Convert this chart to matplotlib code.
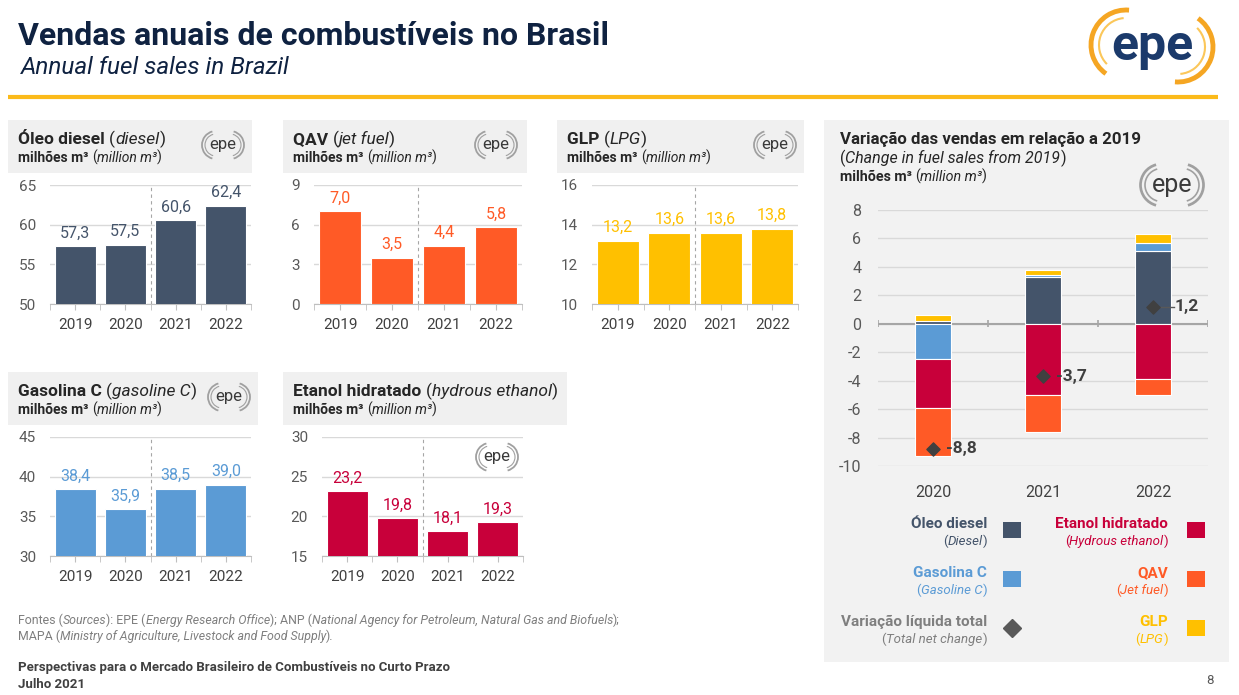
import numpy as np
import matplotlib
matplotlib.use("Agg")
import matplotlib.pyplot as plt
from matplotlib.patches import Rectangle, Arc

# data (milhoes de m3)
years = ["2019", "2020", "2021", "2022"]
diesel = [57.3, 57.5, 60.6, 62.4]
qav = [7.0, 3.5, 4.4, 5.8]
glp = [13.2, 13.6, 13.6, 13.8]
gasolina = [38.4, 35.9, 38.5, 39.0]
etanol = [23.2, 19.8, 18.1, 19.3]

var_years = ["2020", "2021", "2022"]
var_diesel = [0.2, 3.3, 5.1]
var_gasolina = [-2.5, 0.1, 0.6]
var_glp = [0.4, 0.4, 0.6]
var_etanol = [-3.4, -5.0, -3.9]
var_qav = [-3.4, -2.6, -1.1]
var_total = [-8.8, -3.7, 1.2]

C_DIESEL = "#44546A"
C_QAV = "#FF5A26"
C_GLP = "#FFC000"
C_GASOL = "#5B9BD5"
C_ETANOL = "#C8003A"
C_HEAD = "#F0F0F0"
C_TXT = "#262626"

plt.rcParams["font.family"] = ["Roboto", "DejaVu Sans"]
plt.rcParams["axes.unicode_minus"] = False

W, H = 1239, 695
fig = plt.figure(figsize=(W / 100, H / 100), dpi=100)
fig.patch.set_facecolor("white")

# background axes in pixel units (y goes down)
bg = fig.add_axes([0, 0, 1, 1], zorder=0)
bg.set_xlim(0, W)
bg.set_ylim(H, 0)
bg.axis("off")
renderer = fig.canvas.get_renderer()


def px_rect(x0, y0, x1, y1):
    return [x0 / W, 1 - y1 / H, (x1 - x0) / W, (y1 - y0) / H]


def text_width(s, **kw):
    t = bg.text(0, 0, "I" + s + "I", **kw)
    w1 = t.get_window_extent(renderer).width
    t.remove()
    t = bg.text(0, 0, "II", **kw)
    w0 = t.get_window_extent(renderer).width
    t.remove()
    return w1 - w0


def rich(x, y, parts, size, color, ha="left"):
    # parts: (text, weight, style)
    widths = [text_width(s, fontsize=size, fontweight=wt, fontstyle=st) for s, wt, st in parts]
    cx = x if ha == "left" else x - sum(widths)
    for (s, wt, st), w in zip(parts, widths):
        bg.text(cx, y, s, fontsize=size, fontweight=wt, fontstyle=st,
                color=color, va="baseline", ha="left")
        cx += w


def epe_small(cx, cy, s=1.0):
    bg.text(cx, cy, "epe", ha="center", va="center", fontsize=12 * s, color="#3a3a3a")
    for r, lw in [(14, 1.3), (11, 0.8)]:
        bg.add_patch(Arc((cx - 7 * s, cy), 2 * r * s, 2 * r * s, theta1=105, theta2=255,
                         color="#a0a0a0", lw=lw * s))
        bg.add_patch(Arc((cx + 7 * s, cy), 2 * r * s, 2 * r * s, theta1=-75, theta2=75,
                         color="#a0a0a0", lw=lw * s))


def header(x0, y0, x1, title, sub):
    bg.add_patch(Rectangle((x0, y0), x1 - x0, 53, color=C_HEAD, lw=0))
    rich(x0 + 10, y0 + 24, [(title + " ", "bold", "normal"), ("(", "normal", "normal"),
                            (sub, "normal", "italic"), (")", "normal", "normal")], 12.5, C_TXT)
    rich(x0 + 10, y0 + 42, [("milhões m³ ", "bold", "normal"), ("(", "normal", "normal"),
                            ("million m³", "normal", "italic"), (")", "normal", "normal")], 10, C_TXT)


def small_chart(rect, vals, ylim, yticks, color):
    ax = fig.add_axes(px_rect(*rect), zorder=2)
    ax.set_facecolor("none")
    x = np.arange(len(years))
    ax.bar(x, vals, width=0.82, color=color, edgecolor="white", linewidth=0.8, zorder=3)
    for i, v in enumerate(vals):
        ax.annotate(f"{v:.1f}".replace(".", ","), (i, v), xytext=(0, 4),
                    textcoords="offset points", ha="center", va="bottom",
                    color=color, fontsize=11.5)
    ax.set_xlim(-0.5, len(years) - 0.5)
    ax.set_ylim(*ylim)
    ax.set_yticks(yticks)
    ax.yaxis.grid(True, color="#d9d9d9", lw=1)
    ax.set_axisbelow(True)
    ax.axvline(1.5, color="#a6a6a6", ls=(0, (3, 3)), lw=0.8, zorder=1)
    for sp in ["top", "right", "left"]:
        ax.spines[sp].set_visible(False)
    ax.spines["bottom"].set_color("#bfbfbf")
    ax.set_xticks(x)
    ax.set_xticklabels(years)
    ax.set_xticks(np.arange(-0.5, len(years), 1), minor=True)
    ax.tick_params(axis="x", which="both", length=4, color="#bfbfbf", pad=6,
                   labelsize=11, labelcolor="#404040")
    ax.tick_params(axis="y", length=0, pad=10, labelsize=11, labelcolor="#595959")
    return ax


# title
bg.text(18, 45, "Vendas anuais de combustíveis no Brasil", fontsize=23, fontweight="bold",
        color="#0F2241", va="baseline")
bg.text(21, 74, "Annual fuel sales in Brazil", fontsize=17.5, fontstyle="italic",
        color="#0F2241", va="baseline")
bg.plot([8, 1218], [97, 97], color="#FBBA1A", lw=3, solid_capstyle="butt")

# big logo
bg.text(1152, 46, "epe", ha="center", va="center", fontsize=36, fontweight="bold", color="#1B3A6B")
bg.add_patch(Arc((1126, 45), 70, 70, theta1=-235, theta2=-85, color="#F5A623", lw=3.5))
bg.add_patch(Arc((1178, 47), 70, 70, theta1=-55, theta2=95, color="#F5A623", lw=3.5))
bg.add_patch(Arc((1126, 45), 54, 54, theta1=-225, theta2=-95, color="#FBC75A", lw=1.5))
bg.add_patch(Arc((1178, 47), 54, 54, theta1=-45, theta2=85, color="#FBC75A", lw=1.5))

# small charts
header(8, 120, 252, "Óleo diesel", "diesel")
epe_small(223, 145)
small_chart((50, 185, 251, 304), diesel, (50, 65), [50, 55, 60, 65], C_DIESEL)

header(283, 120, 527, "QAV", "jet fuel")
epe_small(496, 145)
small_chart((314, 185, 522, 304), qav, (0, 9), [0, 3, 6, 9], C_QAV)

header(557, 120, 804, "GLP", "LPG")
epe_small(775, 145)
small_chart((592, 185, 798, 304), glp, (10, 16), [10, 12, 14, 16], C_GLP)

header(8, 372, 258, "Gasolina C", "gasoline C")
epe_small(229, 397)
small_chart((50, 437, 251, 556), gasolina, (30, 45), [30, 35, 40, 45], C_GASOL)

header(283, 372, 567, "Etanol hidratado", "hydrous ethanol")
small_chart((322, 437, 523, 556), etanol, (15, 30), [15, 20, 25, 30], C_ETANOL)
epe_small(497, 457)

# right panel
bg.add_patch(Rectangle((824, 120), 1229 - 824, 542, color="#F2F2F2", lw=0))
bg.text(840, 144, "Variação das vendas em relação a 2019", fontsize=12.2, fontweight="bold",
        color=C_TXT, va="baseline")
rich(840, 163, [("(", "normal", "normal"), ("Change in fuel sales from 2019", "normal", "italic"),
                (")", "normal", "normal")], 11.5, C_TXT)
rich(840, 181, [("milhões m³ ", "bold", "normal"), ("(", "normal", "normal"),
                ("million m³", "normal", "italic"), (")", "normal", "normal")], 10.3, C_TXT)
epe_small(1172, 185, s=1.5)

ax = fig.add_axes(px_rect(878, 210, 1208, 466), zorder=2)
ax.set_facecolor("none")
xv = np.arange(len(var_years))
series = [(var_diesel, C_DIESEL), (var_gasolina, C_GASOL), (var_glp, C_GLP),
          (var_etanol, C_ETANOL), (var_qav, C_QAV)]
pos = np.zeros(len(xv))
neg = np.zeros(len(xv))
for vals, col in series:
    vals = np.array(vals)
    base = np.where(vals >= 0, pos, neg)
    ax.bar(xv, vals, bottom=base, width=0.33, color=col, edgecolor="white", linewidth=0.8, zorder=3)
    pos = pos + np.where(vals >= 0, vals, 0)
    neg = neg + np.where(vals < 0, vals, 0)
ax.scatter(xv, var_total, marker="D", s=45, color="#404040", zorder=5)
for i, v in enumerate(var_total):
    lab = f"{v:.1f}".replace(".", ",")
    if v >= 0:
        ax.plot([i, i + 0.19], [v, v], color="#595959", lw=1, zorder=4)
        ax.text(i + 0.2, v, lab, ha="left", va="center", fontsize=12.5, fontweight="bold",
                color="#404040", zorder=6)
    else:
        ax.text(i + 0.12, v, lab, ha="left", va="center", fontsize=12.5, fontweight="bold",
                color="#404040", zorder=6)
ax.axhline(0, color="#a6a6a6", lw=1.5, zorder=2)
ax.vlines(np.arange(-0.5, len(xv), 1), -0.25, 0.25, color="#a6a6a6", lw=1.2, zorder=2)
ax.set_xlim(-0.5, len(xv) - 0.5)
ax.set_ylim(-10, 8)
ax.set_yticks(np.arange(-10, 9, 2))
ax.yaxis.grid(True, color="#d9d9d9", lw=1)
ax.set_axisbelow(True)
for sp in ax.spines.values():
    sp.set_visible(False)
ax.set_xticks(xv)
ax.set_xticklabels(var_years)
ax.tick_params(axis="x", length=0, pad=14, labelsize=11.5, labelcolor="#404040")
ax.tick_params(axis="y", length=0, pad=12, labelsize=11.5, labelcolor="#595959")

# legend
legend_left = [("Óleo diesel", "Diesel", C_DIESEL, "s"),
               ("Gasolina C", "Gasoline C", C_GASOL, "s"),
               ("Variação líquida total", "Total net change", "#7F7F7F", "D")]
legend_right = [("Etanol hidratado", "Hydrous ethanol", C_ETANOL, "s"),
                ("QAV", "Jet fuel", C_QAV, "s"),
                ("GLP", "LPG", C_GLP, "s")]
row_y = [528, 577, 626]
for items, tx, mx in [(legend_left, 987, 1012), (legend_right, 1168, 1196)]:
    for (name, sub, col, mk), y in zip(items, row_y):
        rich(tx, y, [(name, "bold", "normal")], 11, col, ha="right")
        rich(tx, y + 17, [("(", "normal", "normal"), (sub, "normal", "italic"),
                          (")", "normal", "normal")], 9.5, col, ha="right")
        if mk == "s":
            bg.add_patch(Rectangle((mx - 9, y - 6), 18, 16, color=col, lw=0))
        else:
            bg.plot(mx, y + 2, marker="D", ms=9, color="#595959")

# footer
rich(18, 624, [("Fontes (", "normal", "normal"), ("Sources", "normal", "italic"),
               ("): EPE (", "normal", "normal"), ("Energy Research Office", "normal", "italic"),
               ("); ANP (", "normal", "normal"),
               ("National Agency for Petroleum, Natural Gas and Biofuels", "normal", "italic"),
               (");", "normal", "normal")], 8.9, "#7F7F7F")
rich(18, 640, [("MAPA (", "normal", "normal"),
               ("Ministry of Agriculture, Livestock and Food Supply", "normal", "italic"),
               (").", "normal", "normal")], 8.9, "#7F7F7F")
bg.text(18, 671, "Perspectivas para o Mercado Brasileiro de Combustíveis no Curto Prazo",
        fontsize=9.5, fontweight="bold", color="#404040", va="baseline")
bg.text(18, 688, "Julho 2021", fontsize=9.5, fontweight="bold", color="#404040", va="baseline")
bg.text(1210, 680, "8", fontsize=9.5, color="#595959", ha="center", va="center")

fig.savefig("out.png", dpi=100)
